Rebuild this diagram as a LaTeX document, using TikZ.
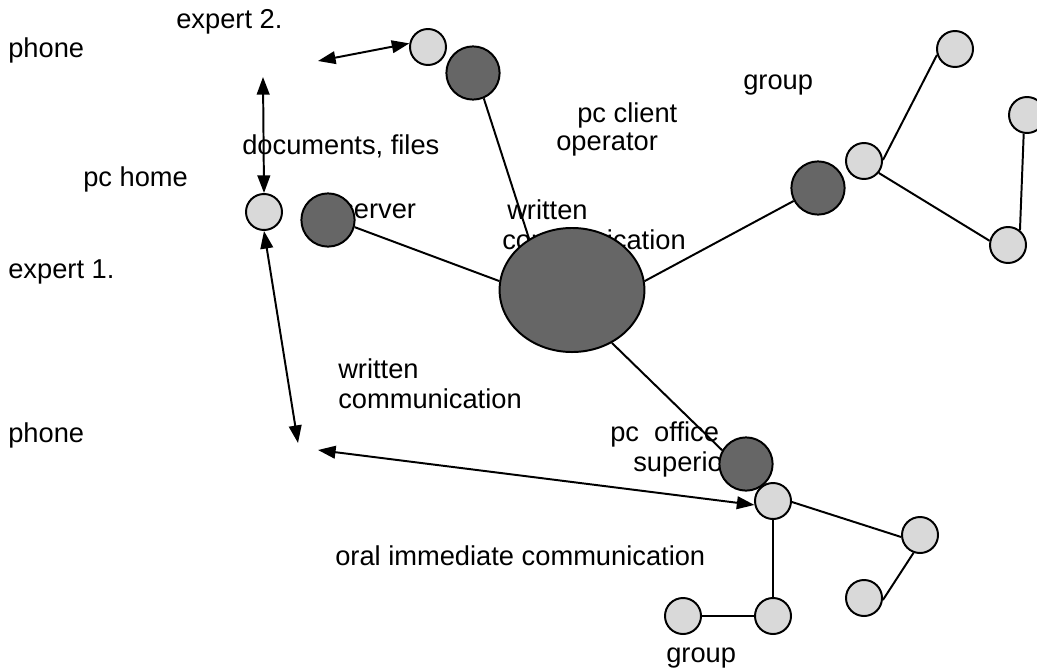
\documentclass[tikz,border=0pt]{standalone}
\usepackage{fontspec}
\setmainfont{Liberation Sans}
\usepackage{xcolor}
\definecolor{nodelight}{HTML}{D9D9D9}
\definecolor{nodedark}{HTML}{666666}
\usetikzlibrary{arrows.meta,shapes.geometric}

\begin{document}
\begin{tikzpicture}[
  x=0.025cm, y=-0.025cm,
  font=\fontsize{19.4}{22}\selectfont,
  lbl/.style={anchor=base west, inner sep=0pt},
  light/.style={circle, draw=black, fill=nodelight, line width=1.4pt,
                minimum size=0.9cm, inner sep=0pt},
  dark/.style={circle, draw=black, fill=nodedark, line width=1.4pt,
               minimum size=1.33cm, inner sep=0pt},
  hub/.style={ellipse, draw=black, fill=nodedark, line width=1.4pt,
              minimum width=3.62cm, minimum height=3.1cm, inner sep=0pt},
  link/.style={line width=1.4pt},
  both/.style={{Triangle[length=12.5pt,width=9pt]}-{Triangle[length=12.5pt,width=9pt]},
               line width=1.4pt},
]
\useasboundingbox (0,0) rectangle (1037,671);

% ================= labels
\node[lbl] (tExpTwo)   at (176,28)  {expert 2.};
\node[lbl] (tPhoneTop) at (8,57)    {phone};
\node[lbl] (tHome)     at (83,186)  {pc home};
\node[lbl] (tExpOne)   at (8,278)   {expert 1.};
\node[lbl] (tPhoneBot) at (8,442)   {phone};
\node[lbl] (tDocs)     at (242,154) {documents, files};
\node[lbl] (tGroupTop) at (743,89)  {group};
\node[lbl] (tClient)   at (577,122) {pc client};
\node[lbl] (tOperator) at (556,150) {operator};
\node[lbl] (tServer)   at (340,218) {server};
\node[lbl] (tWrA)      at (507,219) {written};
\node[lbl] (tComA)     at (502,249) {communication};
\node[lbl] (tWrB)      at (338,378) {written};
\node[lbl] (tComB)     at (338,408) {communication};
\node[lbl] (tOffice)   at (610,441) {pc\ \ office};
\node[lbl] (tSuperior) at (633,471) {superior};
\node[lbl] (tOral)     at (335,565) {oral immediate communication};
\node[lbl] (tGroupBot) at (666,662) {group};

% ================= pcs
\node[light] (home)    at (264,212) {};
\node[light] (expTwo)  at (428,47)  {};
\node[dark]  (dTop)    at (473,73)  {};
\node[dark]  (dServer) at (328,220) {};
\node[dark]  (dRight)  at (818,188) {};
\node[dark]  (dOffice) at (746,464) {};
\node[hub]   (centre)  at (572,290) {};

% ================= group, top right
\node[light] (gMid)   at (864,161)  {};
\node[light] (gTop)   at (955,49)   {};
\node[light] (gEdge)  at (1027,115) {};
\node[light] (gLow)   at (1008,245) {};

% ================= group, bottom
\node[light] (oHub)   at (773,501) {};
\node[light] (oRight) at (920,535) {};
\node[light] (oLowR)  at (864,598) {};
\node[light] (oBot)   at (773,616) {};
\node[light] (oLeft)  at (683,616) {};

% ================= phones (free ends)
\coordinate (phTopA) at (318,61);
\coordinate (phTopB) at (263,77);
\coordinate (phBotA) at (298,443);
\coordinate (phBotB) at (318,450);

% ================= connections
\draw[link] (dTop.-67)    -- (centre.130);
\draw[link] (dServer.-15) -- (centre.173);
\draw[link] (centre.7)    -- (dRight.208);
\draw[link] (centre.-53)  -- (dOffice.150);

\draw[link] (gMid.3)    -- (gTop.198);
\draw[link] (gMid.-39)  -- (gLow.167);
\draw[link] (gLow.51)   -- (gEdge.-100);

\draw[link] (oHub.-3)     -- (oRight.186);
\draw[link] (oRight.-110) -- (oLowR.-6);
\draw[link] (oHub.south)  -- (oBot.north);
\draw[link] (oLeft.east)  -- (oBot.west);

\draw[both] (phTopA) -- (expTwo.169);
\draw[both] (phTopB) -- (home.north);
\draw[both] (home.south) -- (phBotA);
\draw[both] (phBotB) -- (oHub.192);
\end{tikzpicture}
\end{document}
